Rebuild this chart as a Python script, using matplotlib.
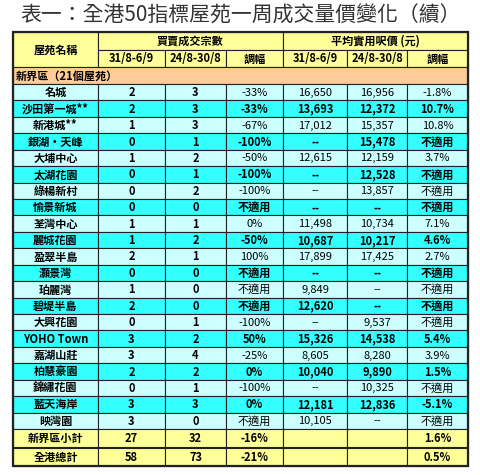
import matplotlib.pyplot as plt
from matplotlib.patches import Rectangle

plt.rcParams['font.family'] = ['Noto Sans CJK TC', 'DejaVu Sans']

title = "表一：全港50指標屋苑一周成交量價變化（續）"
names = ["名城", "沙田第一城**", "新港城**", "銀湖‧天峰", "大埔中心", "太湖花園", "綠楊新村",
         "愉景新城", "荃灣中心", "麗城花園", "盈翠半島", "灝景灣", "珀麗灣", "碧堤半島",
         "大興花園", "YOHO Town", "嘉湖山莊", "柏慧豪園", "錦繡花園", "藍天海岸", "映灣園"]
deals_now = ["2", "2", "1", "0", "1", "0", "0", "0", "1", "1", "2", "0", "1", "2",
             "0", "3", "3", "2", "0", "3", "3"]
deals_prev = ["3", "3", "3", "1", "2", "1", "2", "0", "1", "2", "1", "0", "0", "0",
              "1", "2", "4", "2", "1", "3", "0"]
deals_chg = ["-33%", "-33%", "-67%", "-100%", "-50%", "-100%", "-100%", "不適用", "0%", "-50%",
             "100%", "不適用", "不適用", "不適用", "-100%", "50%", "-25%", "0%", "-100%", "0%", "不適用"]
price_now = ["16,650", "13,693", "17,012", "--", "12,615", "--", "--", "--", "11,498", "10,687",
             "17,899", "--", "9,849", "12,620", "--", "15,326", "8,605", "10,040", "--", "12,181", "10,105"]
price_prev = ["16,956", "12,372", "15,357", "15,478", "12,159", "12,528", "13,857", "--", "10,734",
              "10,217", "17,425", "--", "--", "--", "9,537", "14,538", "8,280", "9,890", "10,325",
              "12,836", "--"]
price_chg = ["-1.8%", "10.7%", "10.8%", "不適用", "3.7%", "不適用", "不適用", "不適用", "7.1%", "4.6%",
             "2.7%", "不適用", "不適用", "不適用", "不適用", "5.4%", "3.9%", "1.5%", "不適用", "-5.1%", "不適用"]
subtotal = ["新界區小計", "27", "32", "-16%", "", "", "1.6%"]
total = ["全港總計", "58", "73", "-21%", "", "", "0.5%"]

xs = [13, 98, 165, 226, 283, 347, 407, 468]
light, dark, yellow, orange = "#ccffff", "#33ffff", "#ffff99", "#ffcc99"

fig = plt.figure(figsize=(4.8, 4.75), dpi=100)
ax = fig.add_axes([0, 0, 1, 1])
ax.set_xlim(0, 480)
ax.set_ylim(475, 0)
ax.axis("off")

ax.text(240, 16, title, ha="center", va="center", fontsize=15, color="#333333")

def cell(x0, x1, y0, y1, color, text="", bold=True, ha="center"):
    ax.add_patch(Rectangle((x0, y0), x1 - x0, y1 - y0, facecolor=color, edgecolor="#222222", lw=0.8))
    if text:
        tx = (x0 + x1) / 2 if ha == "center" else x0 + 3
        ax.text(tx, (y0 + y1) / 2 + 0.5, text, ha=ha, va="center", fontsize=8,
                fontweight="bold" if bold else "normal")

# header
cell(xs[0], xs[1], 32, 67, yellow, "屋苑名稱")
cell(xs[1], xs[4], 32, 50, yellow, "買賣成交宗數")
cell(xs[4], xs[7], 32, 50, yellow, "平均實用呎價 (元)")
for i, h in enumerate(["31/8-6/9", "24/8-30/8", "調幅", "31/8-6/9", "24/8-30/8", "調幅"]):
    cell(xs[i + 1], xs[i + 2], 50, 67, yellow, h)
cell(xs[0], xs[7], 67, 84, orange, "新界區（21個屋苑）", ha="left")

rh = (429 - 84) / len(names)
for r in range(len(names)):
    y0 = 84 + r * rh
    color = dark if r % 2 else light
    vals = [names[r], deals_now[r], deals_prev[r], deals_chg[r], price_now[r], price_prev[r], price_chg[r]]
    for c, v in enumerate(vals):
        cell(xs[c], xs[c + 1], y0, y0 + rh, color, v, bold=(r % 2 == 1 or c in (0, 1, 2)))

for c, v in enumerate(subtotal):
    cell(xs[c], xs[c + 1], 429, 447, yellow, v)
for c, v in enumerate(total):
    cell(xs[c], xs[c + 1], 448, 466, yellow, v)
ax.add_patch(Rectangle((xs[0], 32), xs[7] - xs[0], 434, fill=False, edgecolor="#222222", lw=1.6))

fig.savefig("out.png", dpi=100)
